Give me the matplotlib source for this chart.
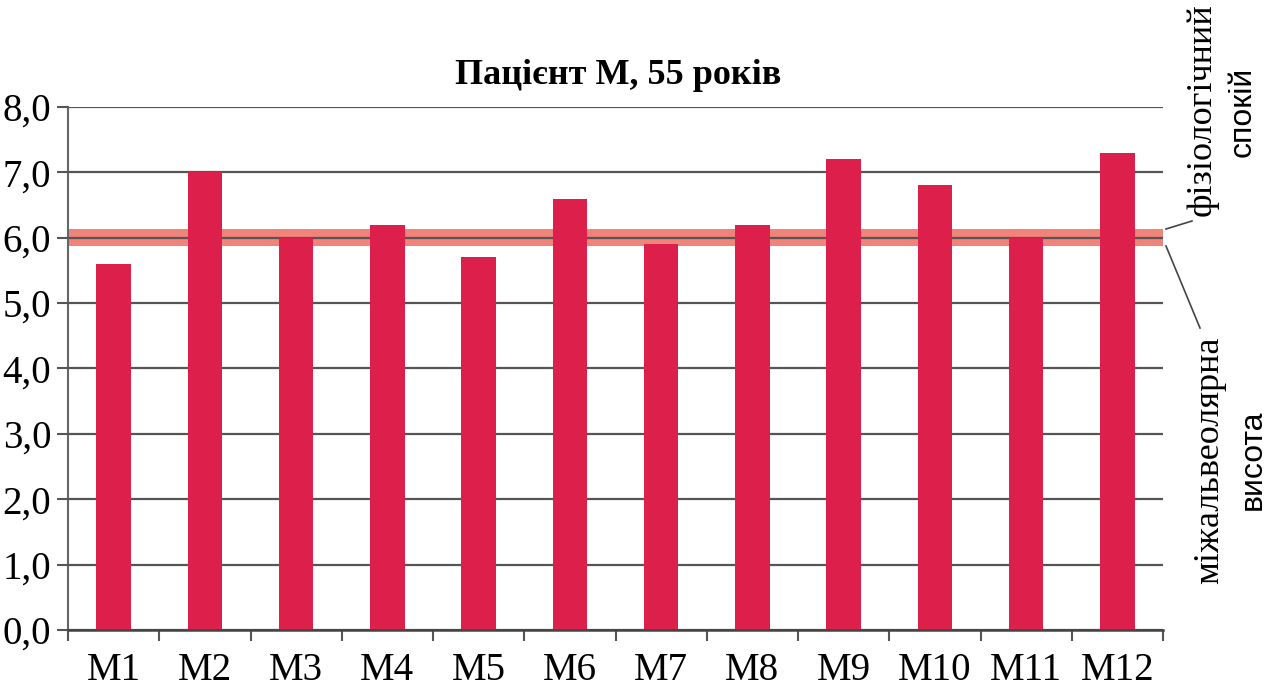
import numpy as np
import matplotlib.pyplot as plt
from matplotlib.lines import Line2D

plt.rcParams['font.family'] = ['Liberation Serif', 'DejaVu Serif']

categories = ['M1', 'M2', 'M3', 'M4', 'M5', 'M6', 'M7', 'M8', 'M9', 'M10', 'M11', 'M12']
values = [5.6, 7.0, 6.0, 6.2, 5.7, 6.6, 5.9, 6.2, 7.2, 6.8, 6.0, 7.3]
band_low, band_high = 5.88, 6.13
yticks = [0, 1, 2, 3, 4, 5, 6, 7, 8]
ytick_labels = ['0,0', '1,0', '2,0', '3,0', '4,0', '5,0', '6,0', '7,0', '8,0']

W, H = 1277, 692
fig = plt.figure(figsize=(W / 100, H / 100), dpi=100)
ax = fig.add_axes([68 / W, 1 - 630 / H, (1163 - 68) / W, (630 - 107) / H])

x = np.arange(len(categories))
ax.axhspan(band_low, band_high, color='#f2837a', zorder=1, lw=0)
ax.bar(x, values, width=0.38, color='#dc1f4b', zorder=3)

ax.set_xlim(-0.5, len(categories) - 0.5)
ax.set_ylim(0, 8)
ax.set_yticks(yticks)
ax.set_yticklabels(ytick_labels, fontsize=28)
ax.yaxis.grid(True, color='#555555', lw=1.6, zorder=2)
ax.set_axisbelow(False)
for gl in ax.get_ygridlines():
    gl.set_zorder(2)

ax.set_xticks(x)
ax.set_xticklabels(categories, fontsize=28)
ax.set_xticks(np.arange(-0.5, len(categories)), minor=True)
ax.tick_params(axis='x', which='major', length=0, pad=16)
ax.tick_params(axis='x', which='minor', length=8, width=1.5, color='#555555', direction='out')
ax.tick_params(axis='y', length=8, width=1.5, color='#555555', pad=4)

for s in ['top', 'right']:
    ax.spines[s].set_visible(False)
ax.spines['left'].set_color('#666666')
ax.spines['left'].set_linewidth(1.5)
ax.spines['bottom'].set_color('#444444')
ax.spines['bottom'].set_linewidth(1.8)
ax.spines['bottom'].set_zorder(4)

fig.text(618 / W, 1 - 76 / H, 'Пацієнт М, 55 років', fontsize=26, fontweight='bold',
         ha='center', va='center')

# right side labels
fig.text(1202 / W, 1 - 110 / H, 'фізіологічний', rotation=90, fontsize=26,
         ha='center', va='center', family='Liberation Serif')
fig.text(1243 / W, 1 - 112 / H, 'спокій', rotation=90, fontsize=23,
         ha='center', va='center', family=['Liberation Sans', 'DejaVu Sans'])
fig.text(1210 / W, 1 - 460 / H, 'міжальвеолярна', rotation=90, fontsize=26,
         ha='center', va='center', family='Liberation Serif')
fig.text(1253 / W, 1 - 460 / H, 'висота', rotation=90, fontsize=23,
         ha='center', va='center', family=['Liberation Sans', 'DejaVu Sans'])

fig.add_artist(Line2D([1166 / W, 1192 / W], [1 - 229 / H, 1 - 221 / H],
                      color='#444444', lw=1.2))
fig.add_artist(Line2D([1166 / W, 1200 / W], [1 - 246 / H, 1 - 328 / H],
                      color='#444444', lw=1.2))

fig.savefig('out.png', dpi=100)
